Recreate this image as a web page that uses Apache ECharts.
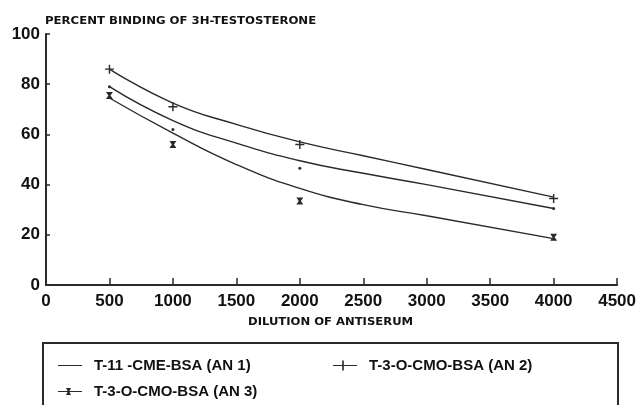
<!DOCTYPE html>
<html>
<head>
<meta charset="utf-8">
<script src="https://cdn.jsdelivr.net/npm/echarts@6/dist/echarts.min.js"></script>
<style>html,body{margin:0;padding:0;background:#fff}#c{width:639px;height:405px}</style>
</head>
<body>
<div id="c"></div>
<script>
// ---- data ----
const seriesNames = ['T-11 -CME-BSA (AN 1)', 'T-3-O-CMO-BSA (AN 2)', 'T-3-O-CMO-BSA (AN 3)'];
// measured points (dilution, percent binding)
const an1Points = [[500, 79], [1000, 62], [2000, 46.5], [4000, 30.5]];
const an2Points = [[500, 86], [1000, 71], [2000, 56], [4000, 34.5]];
const an3Points = [[500, 75.5], [1000, 56], [2000, 33.5], [4000, 19]];
// fitted curves as traced on the picture
const an1Curve = [[500, 79], [1000, 65.5], [1500, 56.5], [2000, 49.5], [2500, 44.5], [3000, 40], [4000, 30.5]];
const an2Curve = [[500, 86], [1000, 72.5], [1500, 64], [2000, 57], [2500, 51.5], [3000, 46], [4000, 35]];
const an3Curve = [[500, 74.5], [1000, 60.5], [1500, 48], [2000, 38.5], [2500, 32], [3000, 27.6], [4000, 18.5]];
const titleText = 'PERCENT BINDING OF 3H-TESTOSTERONE';
const xAxisTitle = 'DILUTION OF ANTISERUM';

const ink = '#2a2a2a';
const plusSym = 'path://M4.2,0h1.6v10h-1.6z M0,4.2h10v1.6h-10z';
const bowSym = 'path://M0,0L10,0L6.5,5L10,10L0,10L3.5,5Z';
const icon1 = 'path://M0,4.4h24v1.2h-24z M0,0h0.01v10h-0.01z';
const icon2 = 'path://M0,4.4h24v1.2h-24z M9.2,0h1.6v10h-1.6z';
const icon3 = 'path://M0,4.4h24v1.2h-24z M8,1.5h5l-1.8,3.5l1.8,3.5h-5l1.8,-3.5z';

const labelFont = {fontFamily: 'Liberation Sans, Arial, sans-serif', fontWeight: 'bold', fontSize: 17, color: '#111'};

function curve(name, data) {
  return {type: 'line', name, data, smooth: 0.5, symbol: 'none', silent: true,
    lineStyle: {color: ink, width: 1.4}, itemStyle: {color: ink}, z: 2};
}
function pts(name, data, symbol, size) {
  return {type: 'scatter', name, data, symbol, symbolSize: size, silent: true,
    itemStyle: {color: ink, opacity: 1}, z: 3};
}
function legendAt(name, icon, left, top) {
  return {data: [{name, icon}], left, top, padding: 0, orient: 'horizontal',
    itemWidth: 24, itemHeight: 10, selectedMode: false,
    textStyle: {fontFamily: 'Liberation Sans, Arial, sans-serif', fontWeight: 'bold', fontSize: 15, color: '#111', padding: [0, 0, 0, 7]}};
}

const chart = echarts.init(document.getElementById('c'), null, {renderer: 'canvas'});
chart.setOption({
  animation: false,
  backgroundColor: '#fff',
  grid: {left: 46, right: 21, top: 34, bottom: 120, containLabel: false},
  xAxis: {
    type: 'value', min: 0, max: 4500, interval: 500,
    axisLine: {show: true, lineStyle: {color: ink, width: 2}},
    axisTick: {show: true, inside: true, length: 7, lineStyle: {color: ink, width: 1.5}},
    splitLine: {show: false},
    axisLabel: Object.assign({margin: 8, formatter: v => String(v)}, labelFont)
  },
  yAxis: {
    type: 'value', min: 0, max: 100, interval: 20,
    axisLine: {show: true, lineStyle: {color: ink, width: 2}},
    axisTick: {show: true, inside: true, length: 4, lineStyle: {color: ink, width: 1.5}},
    splitLine: {show: false},
    axisLabel: Object.assign({margin: 6, formatter: v => String(v)}, labelFont)
  },
  legend: [
    legendAt(seriesNames[0], icon1, 58, 358),
    legendAt(seriesNames[1], icon2, 333, 358),
    legendAt(seriesNames[2], icon3, 58, 384)
  ],
  graphic: [
    {type: 'text', x: 45, y: 16, scaleX: 1.17, silent: true,
     style: {text: titleText, fill: '#111', font: 'bold 10px "DejaVu Sans"', textVerticalAlign: 'top'}},
    {type: 'text', x: 248, y: 317, scaleX: 1.16, silent: true,
     style: {text: xAxisTitle, fill: '#111', font: 'bold 10px "DejaVu Sans"', textVerticalAlign: 'top'}},
    {type: 'rect', silent: true, shape: {x: 43, y: 343, width: 575, height: 100},
     style: {fill: 'none', stroke: ink, lineWidth: 2}}
  ],
  series: [
    curve(seriesNames[0], an1Curve),
    curve(seriesNames[1], an2Curve),
    curve(seriesNames[2], an3Curve),
    pts(seriesNames[0], an1Points, 'circle', 3),
    pts(seriesNames[1], an2Points, plusSym, 9),
    pts(seriesNames[2], an3Points, bowSym, 7)
  ]
});
</script>
</body>
</html>
